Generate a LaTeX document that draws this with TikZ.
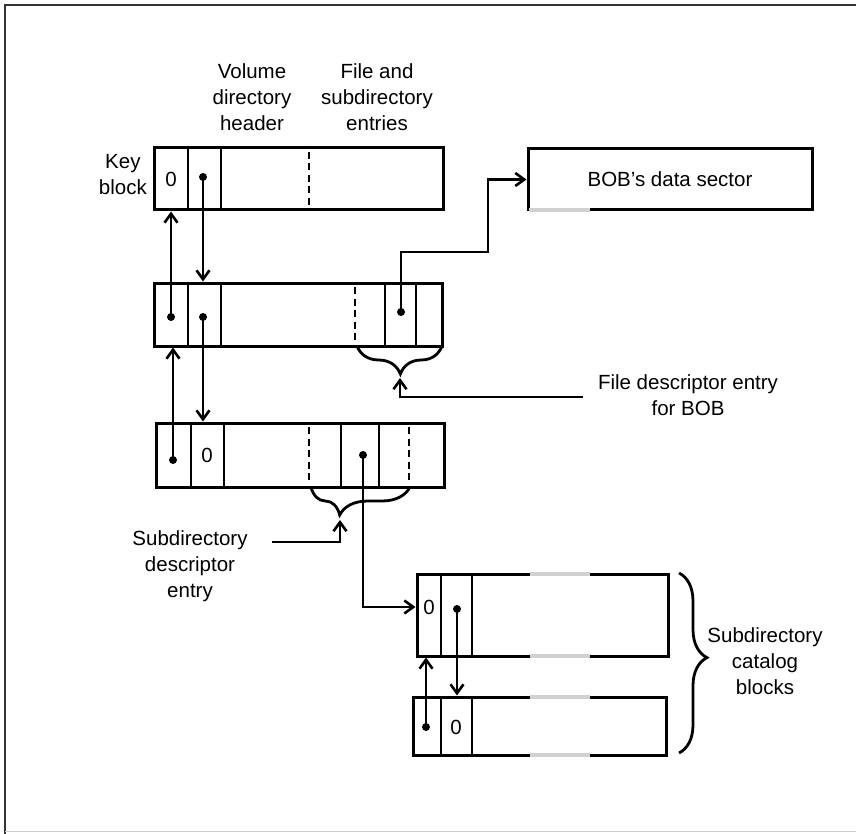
\documentclass[tikz,border=0pt]{standalone}
\usepackage{fontspec}
\setmainfont{Liberation Sans}
\usetikzlibrary{arrows.meta,decorations.pathreplacing}
\begin{document}
\begin{tikzpicture}[x=1pt,y=-1pt,
  lbl/.style={font=\fontsize{20.5}{26}\selectfont, align=center, inner sep=0},
  box/.style={draw, line width=3pt, inner sep=0, rectangle},
  div/.style={line width=2.6pt},
  dsh/.style={line width=2.6pt, dash pattern=on 7pt off 4.5pt},
  dot/.style={circle, fill, inner sep=0, minimum size=8pt},
  arr/.style={line width=2.8pt, -{Straight Barb[length=9pt,width=13pt,line width=2.6pt]}},
  brc/.style={line width=2.8pt, decorate, decoration={brace, amplitude=28pt}},
  fade/.style={line width=3.2pt, black!18},
]
\useasboundingbox (0,0) rectangle (856,834);
% frame
\draw[line width=2pt, black!80] (5,834) -- (5,5) -- (856,5);
\draw[line width=1pt, black!20] (5,831) -- (856,831);

% block 1 (key block)
\node[box, minimum width=289pt, minimum height=62pt] (b1) at (298.5,179) {};
\draw[div] (188,148) -- (188,210);
\draw[div] (221,148) -- (221,210);
\draw[dsh] (309,152) -- (309,206);
\node[lbl] (z1) at (171,179) {0};
\node[dot] (p1) at (203,177) {};

% block 2
\node[box, minimum width=288pt, minimum height=63pt] (b2) at (298,314.5) {};
\draw[div] (188,283) -- (188,346);
\draw[div] (221,283) -- (221,346);
\draw[dsh] (355,287) -- (355,342);
\draw[div] (385,283) -- (385,346);
\draw[div] (416,283) -- (416,346);
\node[dot] (q1) at (171,317) {};
\node[dot] (q2) at (203,317) {};
\node[dot] (r1) at (401,312) {};

% block 3
\node[box, minimum width=288pt, minimum height=64pt] (b3) at (300,455) {};
\draw[div] (191,423) -- (191,487);
\draw[div] (224,423) -- (224,487);
\draw[dsh] (309,427) -- (309,483);
\draw[div] (341,423) -- (341,487);
\draw[div] (379,423) -- (379,487);
\draw[dsh] (409,427) -- (409,483);
\node[dot] (u1) at (173,460) {};
\node[lbl] (z3) at (207,455) {0};
\node[dot] (s1) at (363,455) {};

% block 4
\node[box, minimum width=251pt, minimum height=82pt] (b4) at (542.5,615) {};
\draw[fade] (530,574) -- (590,574);
\draw[fade] (530,656) -- (590,656);
\draw[div] (441,574) -- (441,656);
\draw[div] (472,574) -- (472,656);
\node[lbl] (z4) at (429,607) {0};
\node[dot] (v1) at (457,609) {};

% block 5
\node[box, minimum width=253pt, minimum height=58pt] (b5) at (539.5,726) {};
\draw[fade] (530,697) -- (590,697);
\draw[fade] (530,755) -- (590,755);
\draw[div] (441,697) -- (441,755);
\draw[div] (472,697) -- (472,755);
\node[dot] (w1) at (426,727) {};
\node[lbl] (z5) at (456,727) {0};

% BOB's data sector
\node[box, minimum width=284pt, minimum height=61pt, font=\fontsize{20.5}{26}\selectfont] (bob) at (670,179.5) {BOB's data sector};
\draw[fade] (529,210) -- (590,210);

% labels
\node[lbl] (vdh) at (252,97) {Volume\\directory\\header};
\node[lbl] (fse) at (377,97) {File and\\subdirectory\\entries};
\node[lbl, anchor=east] (kb) at (147,175) {Key\\block};
\node[lbl] (fde) at (688,395) {File descriptor entry\\for BOB};
\node[lbl] (sde) at (190,566) {Subdirectory\\descriptor\\entry};
\node[lbl] (scb) at (765,661) {Subdirectory\\catalog\\blocks};

% braces
\draw[brc, decoration={mirror, aspect=0.51}] (357,346) -- (442,346);
\coordinate (t2) at (400,378);
\draw[brc, decoration={mirror, aspect=0.29}] (311,487) -- (410,487);
\coordinate (t3) at (340,520);
\draw[brc, decoration={aspect=0.47}] (679,573) -- (679,753);

% connectors
\draw[arr] (p1.center) -- (p1 |- b2.north);
\draw[arr] (q1.center) -- (q1 |- b1.south);
\draw[arr] (q2.center) -- (q2 |- b3.north);
\draw[arr] (u1.center) -- (u1 |- b2.south);
\coordinate (k1) at (488,252);
\draw[arr] (r1.center) |- (k1) |- (bob.west);
\coordinate (fa) at (583,397);
\draw[arr] (fa) -| (t2);
\coordinate (sa) at (272,542);
\draw[arr] (sa) -| (t3);
\draw[arr] (s1.center) |- ([yshift=8pt]b4.west);
\draw[arr] (v1.center) -- (v1 |- b5.north);
\draw[arr] (w1.center) -- (w1 |- b4.south);
\end{tikzpicture}
\end{document}
